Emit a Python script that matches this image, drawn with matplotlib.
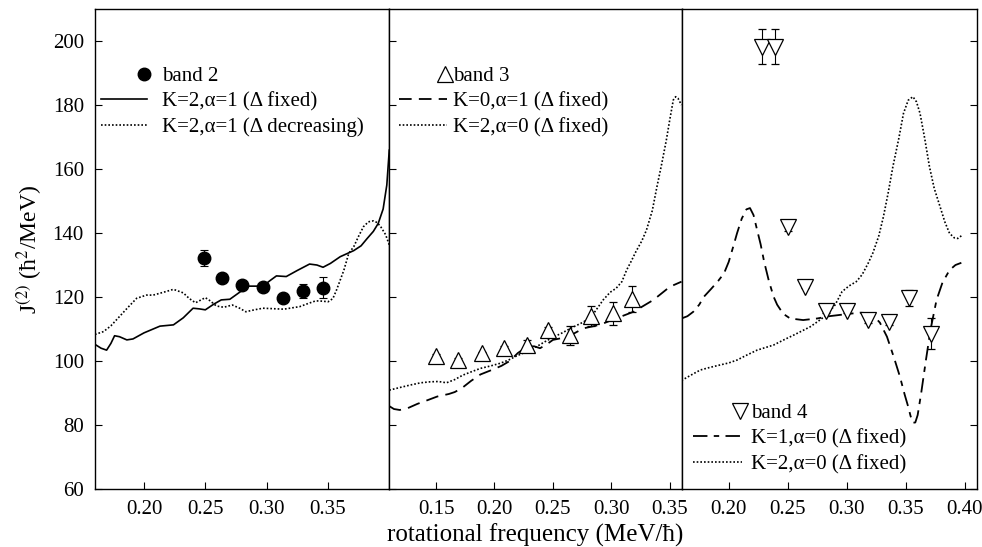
import matplotlib
matplotlib.use('Agg')
import matplotlib.pyplot as plt
from matplotlib.lines import Line2D
from matplotlib.legend_handler import HandlerLine2D

plt.rcParams['font.family'] = ['Liberation Serif', 'DejaVu Serif']
plt.rcParams['mathtext.fontset'] = 'stix'
plt.rcParams['font.size'] = 15

# ---- panel 1: band 2 ----
b2_w = [0.249, 0.264, 0.280, 0.297, 0.313, 0.330, 0.346]
b2_j = [132.1, 125.8, 123.7, 123.2, 119.6, 121.9, 122.9]
b2_err = [2.5, 1.2, 1.0, 1.0, 1.0, 2.3, 3.3]

k2a1_fix_w = [0.160, 0.165, 0.1695, 0.173, 0.176, 0.180, 0.186, 0.191, 0.200, 0.213,
              0.224, 0.232, 0.240, 0.245, 0.250, 0.257, 0.263, 0.270, 0.278, 0.285,
              0.297, 0.303, 0.308, 0.316, 0.325, 0.335, 0.341, 0.346, 0.352, 0.360,
              0.371, 0.377, 0.382, 0.387, 0.391, 0.395, 0.398, 0.400]
k2a1_fix_j = [105.2, 104.0, 103.4, 105.5, 107.9, 107.6, 106.6, 106.9, 108.8, 110.9,
              111.3, 113.5, 116.5, 116.3, 116.0, 117.8, 119.1, 119.3, 121.5, 123.4,
              123.4, 125.2, 126.6, 126.4, 128.3, 130.3, 130.0, 129.3, 130.5, 132.6,
              134.5, 136.0, 138.3, 140.5, 143.0, 147.5, 155.0, 165.9]

k2a1_dec_w = [0.160, 0.167, 0.173, 0.180, 0.187, 0.194, 0.202, 0.2075, 0.216, 0.224,
              0.232, 0.237, 0.242, 0.246, 0.250, 0.254, 0.259, 0.265, 0.272, 0.278,
              0.283, 0.290, 0.297, 0.314, 0.327, 0.334, 0.340, 0.346, 0.350, 0.354,
              0.357, 0.363, 0.367, 0.371, 0.375, 0.379, 0.383, 0.387, 0.390, 0.393,
              0.397, 0.400]
k2a1_dec_j = [108.3, 109.2, 111.0, 113.9, 116.8, 119.6, 120.6, 120.6, 121.5, 122.4,
              121.3, 119.5, 118.2, 119.0, 119.8, 118.8, 117.2, 116.8, 117.5, 116.5,
              115.4, 116.0, 116.5, 116.2, 117.0, 118.0, 118.8, 118.7, 118.5, 119.5,
              122.2, 128.4, 133.7, 135.7, 139.0, 142.0, 143.5, 143.8, 143.3, 142.0,
              139.5, 136.3]

# ---- panel 2: band 3 ----
b3_w = [0.150, 0.169, 0.189, 0.208, 0.228, 0.246, 0.265, 0.283, 0.301, 0.318]
b3_j = [101.6, 100.3, 102.4, 104.2, 105.0, 109.7, 108.1, 114.1, 114.9, 119.3]
b3_err = [0.5, 0.5, 0.5, 0.5, 1.5, 0.8, 3.0, 3.0, 3.5, 4.0]

k0a1_w = [0.110, 0.114, 0.119, 0.126, 0.134, 0.143, 0.151, 0.161, 0.166, 0.172,
          0.180, 0.188, 0.199, 0.206, 0.213, 0.220, 0.228, 0.234, 0.239, 0.245,
          0.250, 0.258, 0.265, 0.276, 0.290, 0.304, 0.319, 0.336, 0.350, 0.360]
k0a1_j = [85.9, 85.0, 84.7, 85.3, 86.6, 87.8, 88.9, 89.7, 90.3, 91.5,
          93.8, 95.8, 97.4, 98.5, 100.0, 102.5, 104.5, 104.6, 104.0, 105.3,
          106.6, 107.2, 108.0, 110.2, 111.3, 113.3, 115.4, 119.1, 123.2, 124.8]

k2a0_m_w = [0.110, 0.120, 0.128, 0.137, 0.145, 0.152, 0.159, 0.166, 0.173, 0.180,
            0.188, 0.196, 0.205, 0.212, 0.219, 0.228, 0.236, 0.243, 0.250, 0.258,
            0.265, 0.274, 0.282, 0.288, 0.293, 0.299, 0.304, 0.309, 0.313, 0.317,
            0.321, 0.326, 0.330, 0.335, 0.339, 0.343, 0.347, 0.350, 0.353, 0.355,
            0.357, 0.360]
k2a0_m_j = [90.9, 91.8, 92.5, 93.2, 93.5, 93.6, 93.2, 94.2, 95.6, 96.6,
            97.7, 98.4, 99.3, 100.3, 101.6, 103.0, 104.5, 106.0, 107.4, 108.8,
            110.2, 111.8, 113.4, 116.5, 119.1, 121.5, 122.7, 124.8, 128.4, 131.2,
            134.2, 137.5, 140.9, 147.0, 154.5, 161.5, 169.0, 175.5, 181.6, 182.6,
            182.1, 180.0]

# ---- panel 3: band 4 ----
b4_w = [0.228, 0.239, 0.250, 0.265, 0.282, 0.300, 0.318, 0.336, 0.353, 0.371]
b4_j = [198.2, 198.2, 142.0, 123.2, 115.6, 115.6, 112.8, 112.3, 119.6, 108.6]
b4_err = [5.5, 5.5, 1.5, 0.5, 0.5, 0.5, 0.8, 1.0, 2.5, 4.7]

k1a0_w = [0.160, 0.165, 0.170, 0.175, 0.179, 0.185, 0.191, 0.196, 0.200, 0.204,
          0.207, 0.211, 0.215, 0.218, 0.221, 0.224, 0.227, 0.230, 0.234, 0.238,
          0.241, 0.246, 0.252, 0.263, 0.275, 0.285, 0.294, 0.303, 0.311, 0.317,
          0.322, 0.328, 0.334, 0.340, 0.345, 0.349, 0.352, 0.354, 0.356, 0.358,
          0.360, 0.363, 0.367, 0.371, 0.376, 0.381, 0.387, 0.392, 0.397]
k1a0_j = [113.3, 114.0, 115.4, 117.6, 120.1, 122.5, 125.0, 127.4, 131.0, 136.0,
          139.9, 144.5, 147.4, 147.8, 145.6, 141.0, 136.5, 131.0, 125.0, 120.1,
          117.6, 114.8, 113.3, 112.8, 113.3, 114.0, 114.4, 114.8, 115.1, 115.0,
          114.4, 112.0, 107.6, 101.0, 95.1, 89.5, 85.7, 82.8, 80.7, 80.8,
          83.1, 90.0, 100.3, 110.0, 119.1, 124.5, 128.4, 130.0, 130.7]

k2a0_r_w = [0.160, 0.168, 0.176, 0.184, 0.193, 0.200, 0.207, 0.215, 0.224, 0.231,
            0.238, 0.246, 0.255, 0.262, 0.269, 0.276, 0.283, 0.290, 0.296, 0.302,
            0.308, 0.313, 0.318, 0.322, 0.327, 0.331, 0.335, 0.339, 0.344, 0.348,
            0.352, 0.356, 0.359, 0.362, 0.366, 0.370, 0.374, 0.379, 0.383, 0.387,
            0.391, 0.394, 0.398]
k2a0_r_j = [93.9, 95.6, 97.2, 98.0, 98.8, 99.4, 100.3, 101.8, 103.4, 104.2,
            105.0, 106.5, 108.1, 109.4, 110.7, 112.5, 114.4, 117.5, 121.7, 123.5,
            124.8, 127.0, 130.5, 133.7, 139.0, 145.1, 152.5, 160.7, 169.5, 177.4,
            181.5, 182.6, 181.0, 177.4, 169.5, 160.7, 154.0, 148.2, 143.5, 139.9,
            138.5, 138.3, 139.4]

dotted = (0, (1, 1.2))
dashed = (0, (7, 4))
dashdot = (0, (8, 3.5, 3, 3.5))


class RightMarker(HandlerLine2D):
    # put the marker at the right end of the handle, like the original
    def get_xdata(self, legend, xdescent, ydescent, width, height, fontsize):
        x = width - xdescent - 0.12 * fontsize
        return [x - 1, x + 1], [x]


fig = plt.figure(figsize=(9.82, 5.47), dpi=100)
bot, hgt = 0.106, 0.8775
ax1 = fig.add_axes([0.0967, bot, 0.2997, hgt])
ax2 = fig.add_axes([0.3964, bot, 0.2976, hgt])
ax3 = fig.add_axes([0.6940, bot, 0.3006, hgt])

ax1.plot(k2a1_fix_w, k2a1_fix_j, color='black', lw=1.2)
ax1.plot(k2a1_dec_w, k2a1_dec_j, color='black', lw=1.2, ls=dotted)
ax1.errorbar(b2_w, b2_j, yerr=b2_err, fmt='o', color='black', ms=9,
             capsize=3, elinewidth=0.8, capthick=0.8)

ax2.plot(k0a1_w, k0a1_j, color='black', lw=1.3, ls=dashed)
ax2.plot(k2a0_m_w, k2a0_m_j, color='black', lw=1.2, ls=dotted)
ax2.errorbar(b3_w, b3_j, yerr=b3_err, fmt='^', color='black', mfc='white',
             ms=12, mew=0.9, capsize=3, elinewidth=0.8, capthick=0.8)

ax3.plot(k1a0_w, k1a0_j, color='black', lw=1.3, ls=dashdot)
ax3.plot(k2a0_r_w, k2a0_r_j, color='black', lw=1.2, ls=dotted)
ax3.errorbar(b4_w, b4_j, yerr=b4_err, fmt='v', color='black', mfc='white',
             ms=12, mew=0.9, capsize=3, elinewidth=0.8, capthick=0.8)

ax1.set_xlim(0.16, 0.40)
ax2.set_xlim(0.11, 0.36)
ax3.set_xlim(0.16, 0.41)
ax1.set_xticks([0.20, 0.25, 0.30, 0.35])
ax2.set_xticks([0.15, 0.20, 0.25, 0.30, 0.35])
ax3.set_xticks([0.20, 0.25, 0.30, 0.35, 0.40])

for ax in (ax1, ax2, ax3):
    ax.set_ylim(60, 210)
    ax.set_yticks(range(60, 201, 20))
    ax.xaxis.set_major_formatter(matplotlib.ticker.FormatStrFormatter('%.2f'))
    ax.tick_params(direction='in', length=5, width=0.8, pad=8, labelsize=15)
    for s in ax.spines.values():
        s.set_linewidth(1.0)

ax2.tick_params(axis='y', labelleft=False)
ax3.tick_params(axis='y', left=False, labelleft=False, right=True)

ax1.set_ylabel('J$^{(2)}$ (ħ$^2$/MeV)', fontsize=17, labelpad=6)
fig.text(0.545, 0.022, 'rotational frequency (MeV/ħ)', ha='center', va='center',
         fontsize=18)

leg_kw = dict(frameon=False, borderpad=0, labelspacing=0.28, fontsize=15,
              borderaxespad=0)

h1 = [Line2D([], [], marker='o', ls='none', color='black', ms=9),
      Line2D([], [], color='black', lw=1.2),
      Line2D([], [], color='black', lw=1.2, ls=dotted)]
ax1.legend(h1, ['band 2', 'K=2,α=1 (Δ fixed)', 'K=2,α=1 (Δ decreasing)'],
           loc='upper left', bbox_to_anchor=(0.02, 0.88), handlelength=2.2,
           handletextpad=0.75,
           handler_map={h1[0]: RightMarker(numpoints=1)}, **leg_kw)

h2 = [Line2D([], [], marker='^', ls='none', color='black', mfc='white', ms=12, mew=0.9),
      Line2D([], [], color='black', lw=1.3, ls=dashed),
      Line2D([], [], color='black', lw=1.2, ls=dotted)]
ax2.legend(h2, ['band 3', 'K=0,α=1 (Δ fixed)', 'K=2,α=0 (Δ fixed)'],
           loc='upper left', bbox_to_anchor=(0.035, 0.88), handlelength=2.3,
           handletextpad=0.25,
           handler_map={h2[0]: RightMarker(numpoints=1)}, **leg_kw)

h3 = [Line2D([], [], marker='v', ls='none', color='black', mfc='white', ms=12, mew=0.9),
      Line2D([], [], color='black', lw=1.3, ls=dashdot),
      Line2D([], [], color='black', lw=1.2, ls=dotted)]
ax3.legend(h3, ['band 4', 'K=1,α=0 (Δ fixed)', 'K=2,α=0 (Δ fixed)'],
           loc='upper left', bbox_to_anchor=(0.04, 0.178), handlelength=2.35,
           handletextpad=0.4,
           handler_map={h3[0]: RightMarker(numpoints=1)}, **leg_kw)

fig.savefig('out.png', dpi=100)
